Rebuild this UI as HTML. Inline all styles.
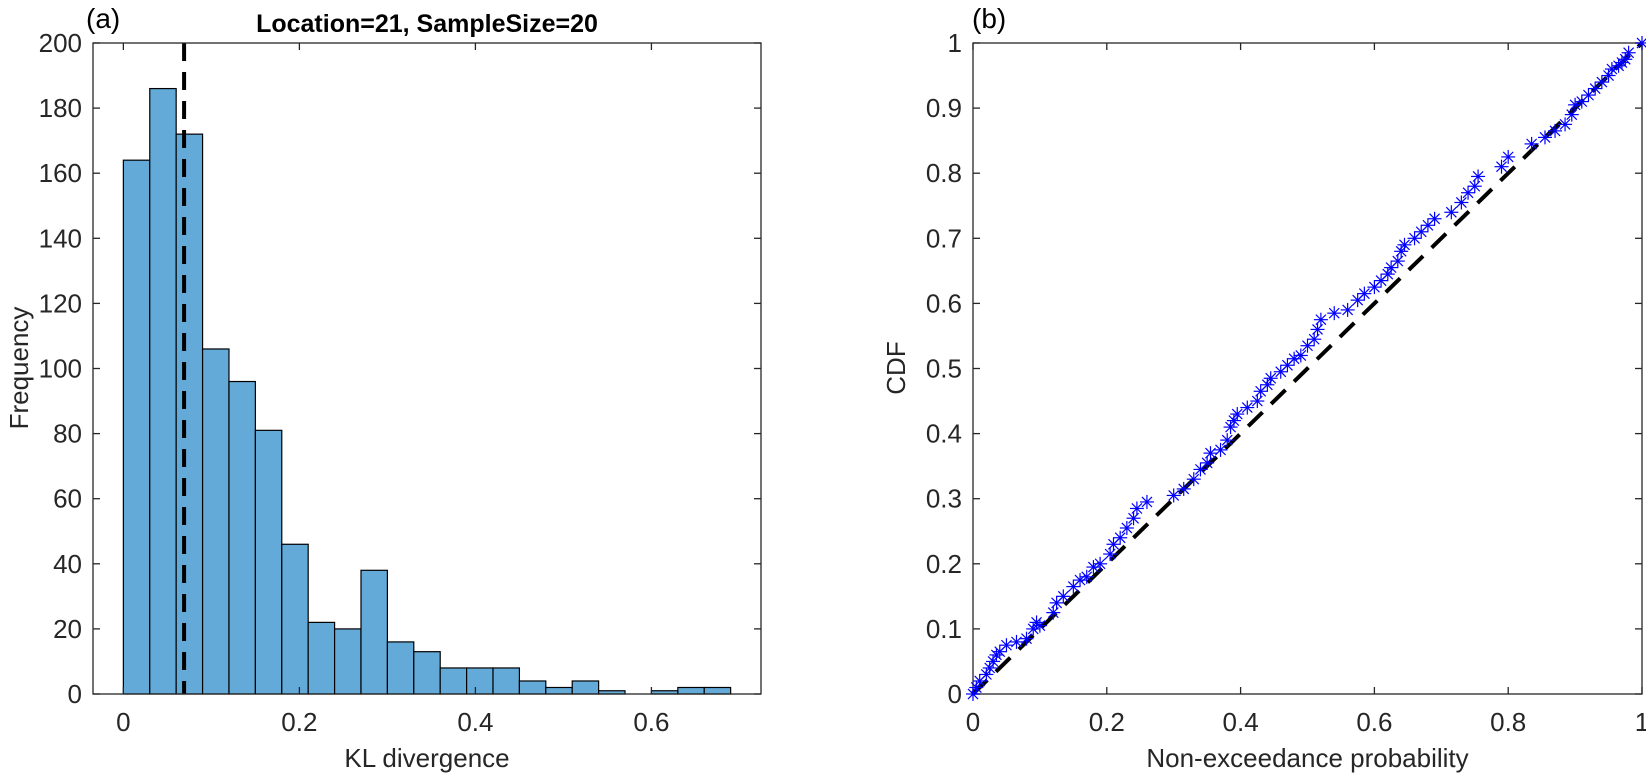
<!DOCTYPE html>
<html><head><meta charset="utf-8"><style>
html,body{margin:0;padding:0;background:#fff;}
svg{display:block;font-family:"Liberation Sans",Arial,sans-serif;}
</style></head><body>
<svg id="fig" width="1646" height="776" viewBox="0 0 1646 776">
<g id="left"></g>
<g id="right"></g>
</svg>
<script>
const binEdgesStart = 0;
const binWidth = 0.03;
const counts = [164,186,172,106,96,81,46,22,20,38,16,13,8,8,8,4,2,4,1,0,1,2,2];
const meanLine = 0.069;
const histXTicks = [0,0.2,0.4,0.6];
const histYTicks = [0,20,40,60,80,100,120,140,160,180,200];
const cdfX = [0,0.005,0.01,0.02,0.025,0.03,0.035,0.04,0.05,0.065,0.08,0.09,0.095,0.1,0.12,0.125,0.135,0.15,0.16,0.17,0.18,0.19,0.205,0.21,0.22,0.23,0.24,0.245,0.26,0.3,0.315,0.33,0.34,0.35,0.355,0.37,0.38,0.385,0.39,0.395,0.41,0.425,0.43,0.44,0.445,0.46,0.47,0.48,0.49,0.5,0.51,0.515,0.52,0.54,0.56,0.575,0.585,0.6,0.61,0.62,0.625,0.635,0.64,0.645,0.66,0.67,0.68,0.69,0.715,0.73,0.74,0.75,0.755,0.79,0.8,0.835,0.855,0.87,0.885,0.895,0.9,0.91,0.92,0.93,0.94,0.95,0.955,0.965,0.97,0.975,0.98,1];
const cdfY = [0,0.01,0.02,0.03,0.04,0.05,0.06,0.065,0.075,0.08,0.085,0.1,0.11,0.105,0.125,0.14,0.15,0.165,0.175,0.18,0.195,0.2,0.215,0.23,0.24,0.255,0.27,0.285,0.295,0.305,0.315,0.33,0.345,0.355,0.37,0.375,0.39,0.41,0.42,0.43,0.44,0.45,0.465,0.475,0.485,0.495,0.505,0.515,0.52,0.535,0.545,0.56,0.575,0.585,0.59,0.605,0.615,0.625,0.635,0.645,0.655,0.665,0.68,0.69,0.7,0.71,0.72,0.73,0.74,0.755,0.77,0.78,0.795,0.81,0.825,0.845,0.855,0.865,0.875,0.89,0.905,0.91,0.92,0.93,0.94,0.95,0.96,0.965,0.97,0.975,0.985,1];
const cdfXTicks = [0,0.2,0.4,0.6,0.8,1];
const cdfYTicks = [0,0.1,0.2,0.3,0.4,0.5,0.6,0.7,0.8,0.9,1];

const NS='http://www.w3.org/2000/svg';
function mk(parent,tag,attrs,text){const e=document.createElementNS(NS,tag);for(const k in attrs)e.setAttribute(k,attrs[k]);if(text!==undefined)e.textContent=text;parent.appendChild(e);return e;}
const AX='#262626';

// LEFT
const L=document.getElementById('left');
const lx0=93,lx1=761,ly0=43,ly1=694;
const hxMin=-0.0345,hxMax=0.7245,hyMin=0,hyMax=200;
const hx=v=>lx0+(v-hxMin)/(hxMax-hxMin)*(lx1-lx0);
const hy=v=>ly1-(v-hyMin)/(hyMax-hyMin)*(ly1-ly0);
counts.forEach((c,i)=>{
  if(c<=0)return;
  const a=binEdgesStart+i*binWidth,b=a+binWidth;
  const r=mk(L,'rect',{x:hx(a),y:hy(c),width:hx(b)-hx(a),height:hy(0)-hy(c),fill:'#64aad8',stroke:'#000','stroke-width':1.2});
  
  
});
const ml=mk(L,'line',{x1:hx(meanLine),x2:hx(meanLine),y1:ly0,y2:ly1,stroke:'#000','stroke-width':4,'stroke-dasharray':'18,11'});


mk(L,'rect',{x:lx0,y:ly0,width:lx1-lx0,height:ly1-ly0,fill:'none',stroke:AX,'stroke-width':1.3});
histXTicks.forEach(t=>{
  mk(L,'line',{x1:hx(t),x2:hx(t),y1:ly1,y2:ly1-7,stroke:AX,'stroke-width':1.3});
  mk(L,'line',{x1:hx(t),x2:hx(t),y1:ly0,y2:ly0+7,stroke:AX,'stroke-width':1.3});
  const tx=mk(L,'text',{x:hx(t),y:731,'text-anchor':'middle','font-size':26,fill:AX},String(t));
  
  
});
histYTicks.forEach(t=>{
  mk(L,'line',{x1:lx0,x2:lx0+7,y1:hy(t),y2:hy(t),stroke:AX,'stroke-width':1.3});
  mk(L,'line',{x1:lx1,x2:lx1-7,y1:hy(t),y2:hy(t),stroke:AX,'stroke-width':1.3});
  const tx=mk(L,'text',{x:lx0-11,y:hy(t)+9,'text-anchor':'end','font-size':26,fill:AX},String(t));
  
  
});
mk(L,'text',{x:(lx0+lx1)/2,y:767,'text-anchor':'middle','font-size':26,fill:AX,},'KL divergence');
mk(L,'text',{x:0,y:0,transform:'translate(28,368) rotate(-90)','text-anchor':'middle','font-size':26,fill:AX,},'Frequency');
mk(L,'text',{x:(lx0+lx1)/2,y:32,'text-anchor':'middle','font-size':25,'font-weight':'bold',fill:'#000',},'Location=21, SampleSize=20');
mk(L,'text',{x:86,y:28,'font-size':28,fill:'#000',},'(a)');

// RIGHT
const R=document.getElementById('right');
const rx0=973,rx1=1642,ry0=43,ry1=694;
const px=v=>rx0+v*(rx1-rx0);
const py=v=>ry1-v*(ry1-ry0);
mk(R,'rect',{x:rx0,y:ry0,width:rx1-rx0,height:ry1-ry0,fill:'none',stroke:AX,'stroke-width':1.3});
cdfXTicks.forEach(t=>{
  mk(R,'line',{x1:px(t),x2:px(t),y1:ry1,y2:ry1-7,stroke:AX,'stroke-width':1.3});
  mk(R,'line',{x1:px(t),x2:px(t),y1:ry0,y2:ry0+7,stroke:AX,'stroke-width':1.3});
  const tx=mk(R,'text',{x:px(t),y:731,'text-anchor':'middle','font-size':26,fill:AX},String(t));
  
  
});
cdfYTicks.forEach(t=>{
  mk(R,'line',{x1:rx0,x2:rx0+7,y1:py(t),y2:py(t),stroke:AX,'stroke-width':1.3});
  mk(R,'line',{x1:rx1,x2:rx1-7,y1:py(t),y2:py(t),stroke:AX,'stroke-width':1.3});
  const tx=mk(R,'text',{x:rx0-11,y:py(t)+9,'text-anchor':'end','font-size':26,fill:AX},String(t));
  
  
});
const ref=mk(R,'line',{x1:px(0),y1:py(0),x2:px(1),y2:py(1),stroke:'#000','stroke-width':4,'stroke-dasharray':'20,12'});


const s=7;
cdfX.forEach((v,i)=>{
  const cx=px(v),cy=py(cdfY[i]);
  const g=mk(R,'g',{stroke:'#0000ff','stroke-width':1.2});
  
  
  mk(g,'line',{x1:cx-s,x2:cx+s,y1:cy,y2:cy});
  mk(g,'line',{x1:cx,x2:cx,y1:cy-s,y2:cy+s});
  mk(g,'line',{x1:cx-s*0.72,x2:cx+s*0.72,y1:cy-s*0.72,y2:cy+s*0.72});
  mk(g,'line',{x1:cx-s*0.72,x2:cx+s*0.72,y1:cy+s*0.72,y2:cy-s*0.72});
});
mk(R,'text',{x:(rx0+rx1)/2,y:767,'text-anchor':'middle','font-size':26,fill:AX,},'Non-exceedance probability');
mk(R,'text',{x:0,y:0,transform:'translate(905,368) rotate(-90)','text-anchor':'middle','font-size':26,fill:AX,},'CDF');
mk(R,'text',{x:972,y:28,'font-size':28,fill:'#000',},'(b)');
</script>
</body></html>
